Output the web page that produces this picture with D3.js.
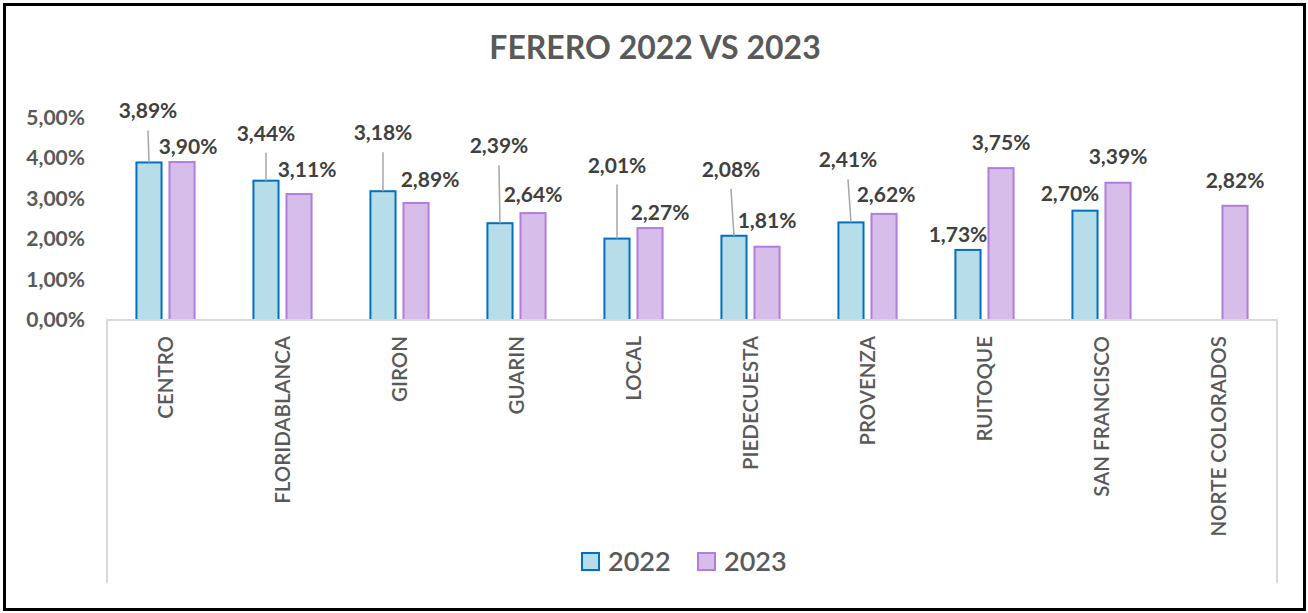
<!DOCTYPE html>
<html>
<head>
<meta charset="utf-8">
<script src="https://cdn.jsdelivr.net/npm/d3@7"></script>
<style>
  body { margin: 0; background: #fff; }
  svg { display: block; font-family: Lato, "Open Sans", sans-serif; }
</style>
</head>
<body>
<svg id="chart" width="1308" height="613"></svg>
<script>
(function() {

  // data
  var categories = ["CENTRO", "FLORIDABLANCA", "GIRON", "GUARIN", "LOCAL",
                    "PIEDECUESTA", "PROVENZA", "RUITOQUE", "SAN FRANCISCO", "NORTE COLORADOS"];
  var series = ["2022", "2023"];
  var values2022 = [3.89, 3.44, 3.18, 2.39, 2.01, 2.08, 2.41, 1.73, 2.70, null];
  var values2023 = [3.90, 3.11, 2.89, 2.64, 2.27, 1.81, 2.62, 3.75, 3.39, 2.82];
  var yTicks = [0, 1, 2, 3, 4, 5];

  // labels were dragged around by hand in the original, so nudge them (px)
  var nudge2022 = [[-1,-26],[0,-22],[0,-33],[-1,-52],[0,-48],[-3,-41],[-3,-37],[-10,10],[-15,8],[0,0]];
  var nudge2023 = [[6,10],[8,1],[14,2],[0,7],[10,10],[0,-1],[2,6],[0,0],[0,-1],[0,0]];

  var fills = {"2022": "#b7dde8", "2023": "#d7bde9"};
  var strokes = {"2022": "#0070c0", "2023": "#b27ddc"};

  var plot = {left: 107, right: 1277, top: 117.5, bottom: 320, floor: 583};

  var svg = d3.select("#chart");

  // outer frame
  svg.append("rect")
    .attr("x", 4.5).attr("y", 4.5)
    .attr("width", 1300).attr("height", 605)
    .attr("fill", "#fff")
    .attr("stroke", "#000")
    .attr("stroke-width", 3);

  svg.append("text")
    .attr("x", 655).attr("y", 59)
    .attr("text-anchor", "middle")
    .style("font-size", "32px")
    .style("font-weight", 700)
    .style("fill", "#595959")
    .text("FERERO 2022 VS 2023");

  var x = d3.scaleBand()
    .domain(categories)
    .range([plot.left, plot.right]);

  var x1 = d3.scaleBand()
    .domain(series)
    .range([0, x.bandwidth()])
    .paddingInner(0.18)
    .paddingOuter(0.86);

  var y = d3.scaleLinear()
    .domain([0, 5])
    .range([plot.bottom, plot.top]);

  // y axis: labels only
  var yAxis = svg.append("g")
    .attr("transform", "translate(" + 85 + ",0)")
    .call(d3.axisLeft(y).tickValues(yTicks).tickSize(0).tickPadding(0)
      .tickFormat(function(d) { return d3.format(".2f")(d).replace(".", ",") + "%"; }));
  yAxis.select(".domain").remove();
  yAxis.selectAll("text")
    .style("font-family", "Lato, sans-serif")
    .style("font-size", "21px")
    .style("font-weight", 700)
    .style("fill", "#595959");

  // build rows
  var rows = [];
  categories.forEach(function(c, i) {
    rows.push({cat: c, s: "2022", v: values2022[i], n: nudge2022[i]});
    rows.push({cat: c, s: "2023", v: values2023[i], n: nudge2023[i]});
  });
  rows = rows.filter(function(d) { return d.v != null; });

  var cx = function(d) { return x(d.cat) + x1(d.s) + x1.bandwidth() / 2; };

  svg.append("g").selectAll("rect")
    .data(rows)
    .join("rect")
      .attr("x", function(d) { return x(d.cat) + x1(d.s) + 1; })
      .attr("y", function(d) { return y(d.v); })
      .attr("width", x1.bandwidth() - 2)
      .attr("height", function(d) { return y(0) - y(d.v); })
      .attr("fill", function(d) { return fills[d.s]; })
      .attr("stroke", function(d) { return strokes[d.s]; })
      .attr("stroke-width", 2);

  // category axis box (top line + two sides)
  svg.append("path")
    .attr("d", ["M", plot.left, plot.floor, "V", plot.bottom, "H", plot.right, "V", plot.floor].join(" "))
    .attr("fill", "none")
    .attr("stroke", "#d9d9d9")
    .attr("stroke-width", 2);

  svg.append("g").selectAll("text")
    .data(categories)
    .join("text")
      .attr("transform", function(d) {
        return "translate(" + (x(d) + x.bandwidth() / 2 + 7.5) + "," + 336 + ") rotate(-90)";
      })
      .attr("text-anchor", "end")
      .style("font-size", "20.5px")
      .style("font-weight", 600)
      .style("fill", "#595959")
      .text(function(d) { return d; });

  // leader lines for labels moved far from their bar
  var lx = function(d) { return cx(d) + d.n[0]; };
  var ly = function(d) { return y(d.v) - 18 + d.n[1]; };

  svg.append("g").selectAll("line")
    .data(rows.filter(function(d) { return d.n[1] < -20; }))
    .join("line")
      .attr("x1", lx)
      .attr("y1", function(d) { return ly(d) + 12; })
      .attr("x2", cx)
      .attr("y2", function(d) { return y(d.v); })
      .attr("stroke", "#a6a6a6")
      .attr("stroke-width", 1.5);

  svg.append("g").selectAll("text")
    .data(rows)
    .join("text")
      .attr("x", lx)
      .attr("y", ly)
      .attr("text-anchor", "middle")
      .style("font-size", "21px")
      .style("font-weight", 700)
      .style("fill", "#404040")
      .text(function(d) { return d3.format(".2f")(d.v).replace(".", ",") + "%"; });

  // legend
  var legend = svg.append("g").selectAll("g")
    .data(series)
    .join("g")
      .attr("transform", function(d, i) { return "translate(" + (582 + i * 116) + ",553)"; });
  legend.append("rect")
    .attr("width", 17).attr("height", 17)
    .attr("fill", function(d) { return fills[d]; })
    .attr("stroke", function(d) { return strokes[d]; })
    .attr("stroke-width", 2);
  legend.append("text")
    .attr("x", 26).attr("y", 18)
    .style("font-size", "27px")
    .style("font-weight", 600)
    .style("fill", "#595959")
    .text(function(d) { return d; });

})();
</script>
</body>
</html>
